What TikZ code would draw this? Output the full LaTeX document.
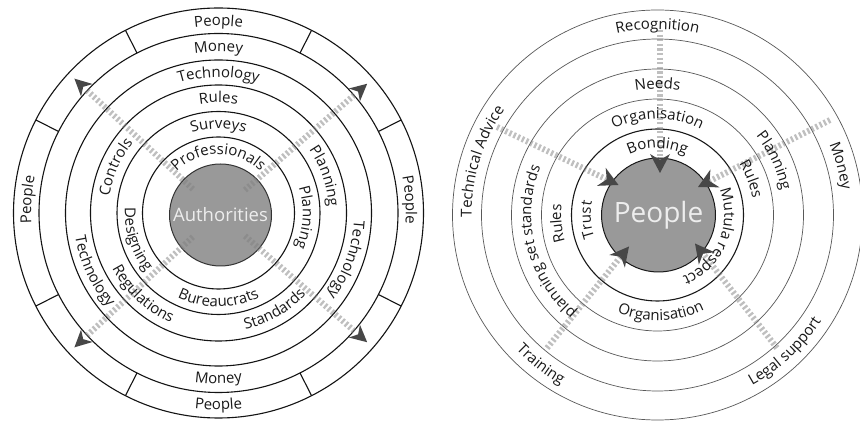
\documentclass[tikz,border=0pt]{standalone}
\usepackage{fontspec}
\setmainfont{Open Sans}
\usetikzlibrary{decorations.text,calc}
\newcommand\lblf{\fontsize{15}{15}\selectfont\color{black!90}}
% clockwise label (tops outward): mid radius, centre angle, text
\newcommand\cwlbl[3]{%
  \pgfmathsetmacro\lbR{#1-4.7}\pgfmathsetmacro\lbA{#2+80}\pgfmathsetmacro\lbB{#2-80}%
  \path[decorate,decoration={text along path,text align=center,text={|\lblf|#3}}]
    (\lbA:\lbR) arc[start angle=\lbA,end angle=\lbB,radius=\lbR];}
% counter-clockwise label (tops inward)
\newcommand\ccwlbl[3]{%
  \pgfmathsetmacro\lbR{#1+4.7}\pgfmathsetmacro\lbA{#2-80}\pgfmathsetmacro\lbB{#2+80}%
  \path[decorate,decoration={text along path,text align=center,text={|\lblf|#3}}]
    (\lbA:\lbR) arc[start angle=\lbA,end angle=\lbB,radius=\lbR];}
% arrow head: tip coordinate, direction angle, length, half width, notch
\newcommand\ahead[5]{%
  \fill[tipfill,shift={(#1)},rotate=#2] (0,0) -- (-#3,#4) -- (-#3+#5,0) -- (-#3,-#4) -- cycle;}
\begin{document}
\begin{tikzpicture}[x=1pt,y=1pt,
  ringL/.style={draw=black!92,line width=1.1pt},
  ringR/.style={draw=black!65,line width=0.7pt},
  ringRdark/.style={draw=black!90,line width=1.1pt},
  flow/.style={draw=black!50,line width=6pt,dash pattern=on 2.3pt off 2.3pt,opacity=0.5},
  tipfill/.style={fill=black!72},
  disc/.style={circle,fill=black!40,draw=black!80,line width=1pt,inner sep=0pt},
  disctext/.style={text=white!93!black}]
\useasboundingbox (0,0) rectangle (860,423);
\fill[white] (0,0) rectangle (860,423);

% ================= LEFT DIAGRAM =================
\begin{scope}[shift={(218.5,210)}]
  \coordinate (LC) at (0,0);
  \foreach \r in {205,179.5,153,128,101.5,76} \draw[ringL] (LC) circle[radius=\r];
  \foreach \a in {27,63,117,153,207,243,297,333} {
    \coordinate (di\a) at (\a:179.5); \coordinate (do\a) at (\a:205);
    \draw[ringL] (di\a) -- (do\a);}
  \node[disc,minimum size=102pt] (authdisc) at (2,-2) {};
  \foreach \a in {137,41,223,319} {
    \coordinate (fs\a) at (\a:35); \coordinate (fe\a) at (\a:181);
    \draw[flow] (fs\a) -- (fe\a);
    \ahead{\a:197}{\a}{17}{8.5}{5}}
  \node[disctext,font=\fontsize{18.5}{18.5}\selectfont] (auth) at (authdisc) {Authorities};
  % People ring
  \cwlbl{192}{90}{People}
  \cwlbl{192}{4}{People}
  \cwlbl{192}{176}{People}
  \ccwlbl{192}{270}{People}
  % Money ring
  \cwlbl{166}{90}{Money}
  \ccwlbl{166}{270}{Money}
  % Technology ring
  \cwlbl{140.5}{90}{Technology}
  \cwlbl{140.5}{-20}{Technology}
  \ccwlbl{140.5}{205}{Technology}
  % Rules ring
  \cwlbl{115}{90}{Rules}
  \cwlbl{115}{156}{Controls}
  \cwlbl{115}{19}{Planning}
  \ccwlbl{115}{227}{Regulations}
  \ccwlbl{115}{300}{Standards}
  % Surveys ring
  \cwlbl{89}{90}{Surveys}
  \cwlbl{89}{-3}{Planning}
  \ccwlbl{89}{198}{Designing}
  \ccwlbl{89}{270}{Bureaucrats}
  % Professionals ring
  \cwlbl{63.5}{90}{Professionals}
\end{scope}

% ================= RIGHT DIAGRAM =================
\begin{scope}[shift={(657.5,208)}]
  \coordinate (RC) at (0,0);
  \foreach \r in {205,176,146,116} \draw[ringR] (RC) circle[radius=\r];
  \draw[ringRdark] (RC) circle[radius=86];
  \node[disc,minimum size=114pt,draw=black!90] (pdisc) at (1,0) {};
  % flows: outer point -> tip
  \coordinate (o1) at (2.5,185);     \coordinate (t1) at (2.5,42);
  \coordinate (o2) at (-160.5,88);   \coordinate (t2) at (-39,30);
  \coordinate (o3) at (172.5,95);    \coordinate (t3) at (40.5,28);
  \coordinate (o4) at (-110.5,-133); \coordinate (t4) at (-28.5,-31.5);
  \coordinate (o5) at (119.5,-133);  \coordinate (t5) at (37.5,-28.5);
  \foreach \i in {1,...,5} \draw[flow] (o\i) -- ($(t\i)!10pt!(o\i)$);
  \ahead{t1}{-90}{19}{10}{6}
  \ahead{t2}{-25.5}{19}{10}{6}
  \ahead{t3}{206.9}{19}{10}{6}
  \ahead{t4}{51.1}{19}{10}{6}
  \ahead{t5}{128.1}{19}{10}{6}
  \node[disctext,font=\fontsize{28}{28}\selectfont] (ppl) at (pdisc) {People};
  % ring 1
  \cwlbl{190.5}{90}{Recognition}
  \cwlbl{190.5}{15}{Money}
  \cwlbl{190.5}{163}{Technical Advice}
  \ccwlbl{190.5}{232}{Training}
  \ccwlbl{190.5}{313}{Legal support}
  % ring 3
  \cwlbl{131}{90}{Needs}
  \cwlbl{131}{25}{Planning}
  \cwlbl{131}{194}{planning set standards}
  % ring 4
  \cwlbl{101}{90}{Organisation}
  \ccwlbl{101}{272}{Organisation}
  \cwlbl{101}{21}{Rules}
  \cwlbl{101}{185}{Rules}
  % ring 5
  \cwlbl{71.5}{90}{Bonding}
  \cwlbl{71.5}{184}{Trust}
  \cwlbl{71.5}{-23}{Mutula respect}
\end{scope}
\end{tikzpicture}
\end{document}
